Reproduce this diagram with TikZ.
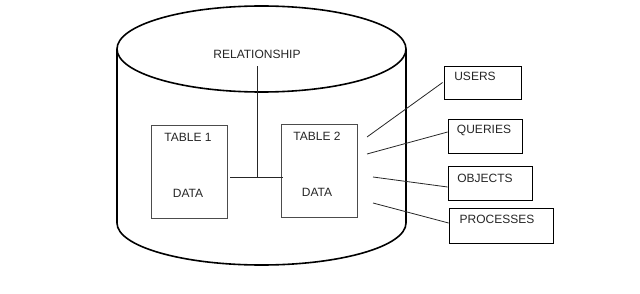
\documentclass[tikz,border=0pt]{standalone}
\usepackage{fontspec}
\setmainfont{Liberation Sans}
\begin{document}
\begin{tikzpicture}[x=1pt,y=-1pt,
  lbl/.style={inner sep=0pt,font=\fontsize{12}{14}\selectfont,text=black!85},
  tbox/.style={draw=black!70,line width=0.8pt,minimum width=76pt,minimum height=93pt,inner sep=0pt},
  rbox/.style={draw=black,line width=0.8pt,inner sep=0pt},
  link/.style={draw=black!85,line width=0.8pt}]
\useasboundingbox (0,0) rectangle (640,294);
% cylinder
\draw[line width=1.6pt] (261.5,49) ellipse[x radius=144.5,y radius=43];
\draw[line width=1.6pt] (117,49) -- (117,223) arc[start angle=180,end angle=0,x radius=144.5,y radius=42] -- (406,49);
% tables
\node[tbox] (t1) at (189,171.5) {};
\node[tbox] (t2) at (319,171) {};
\node[lbl] (t1a) at (188,137) {TABLE 1};
\node[lbl] (t1b) at (188,193) {DATA};
\node[lbl] (t2a) at (317,136) {TABLE 2};
\node[lbl] (t2b) at (317,192) {DATA};
\node[lbl] (rel) at (257,54) {RELATIONSHIP};
\coordinate (relj) at (257,177);
\draw[link] (t1.east |- relj) ++(3,0) -- ([xshift=2pt]t2.west |- relj);
\draw[link] (rel.south) ++(0,8) -- (relj);
% right boxes
\node[rbox,minimum width=77pt,minimum height=33pt] (users) at (482.5,82.5) {};
\node[rbox,minimum width=74pt,minimum height=34pt] (queries) at (485,136) {};
\node[rbox,minimum width=84pt,minimum height=34pt] (objects) at (490,183) {};
\node[rbox,minimum width=104pt,minimum height=35pt] (processes) at (501,225.5) {};
\node[lbl] (usersl) at (475,76) {USERS};
\node[lbl] (queriesl) at (484,130) {QUERIES};
\node[lbl] (objectsl) at (485,178) {OBJECTS};
\node[lbl] (processesl) at (497,219) {PROCESSES};
% connectors
\coordinate (cu) at (367,137);
\coordinate (cq) at (367,154);
\coordinate (co) at (373,177);
\coordinate (cp) at (373,203);
\draw[link] (cu) -- ([xshift=-1pt]users.west);
\draw[link] (cq) -- ([yshift=4pt]queries.west);
\draw[link] (co) -- ([yshift=-4pt]objects.west);
\draw[link] (cp) -- ([yshift=2.5pt]processes.west);
\end{tikzpicture}
\end{document}
